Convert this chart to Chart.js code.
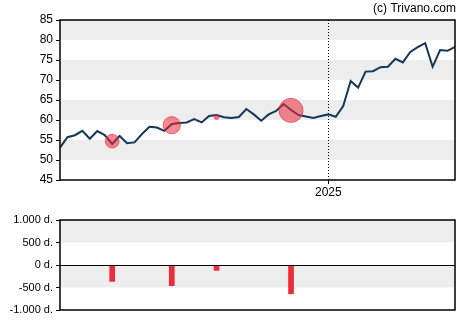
<!DOCTYPE html>
<html>
<head>
<meta charset="utf-8">
<script src="https://cdn.jsdelivr.net/npm/chart.js@4"></script>
<style>
  html, body { margin: 0; padding: 0; background: #fff; }
  #wrap { position: relative; width: 470px; height: 325px; }
  .box { position: absolute; left: 0; width: 470px; }
  #top { top: 0; height: 200px; }
  #bottom { top: 200px; height: 125px; }
</style>
</head>
<body>
<div id="wrap">
  <div class="box" id="top"><canvas id="priceChart"></canvas></div>
  <div class="box" id="bottom"><canvas id="tradeChart"></canvas></div>
</div>
<script>
// Weekly closing prices
const prices = [
  53.1, 55.7, 56.2, 57.3, 55.3, 57.25, 56.25, 54.0, 56.0, 54.2,
  54.4, 56.5, 58.3, 58.1, 57.3, 59.0, 59.25, 59.4, 60.2, 59.4,
  61.0, 61.25, 60.7, 60.5, 60.75, 62.75, 61.4, 59.8, 61.4, 62.25,
  64.0, 62.5, 61.25, 60.9, 60.5, 61.0, 61.4, 60.8, 63.5, 69.75,
  68.1, 72.1, 72.2, 73.2, 73.3, 75.3, 74.4, 77.0, 78.2, 79.2,
  73.3, 77.5, 77.3, 78.3
];
// Insider transactions: week index, price level, net value (thousands)
const tradeWeeks = [7, 15, 21, 31];
const tradePrices = [54.7, 58.7, 60.7, 62.4];
const tradeValues = [-365, -460, -120, -640];

// Year marker
const yearWeek = 36;
const yearLabel = '2025';

// Axis ticks
const priceTicks = [45, 50, 55, 60, 65, 70, 75, 80, 85];
const tradeTicks = [-1000, -500, 0, 500, 1000];
const tradeTickLabels = ['-1.000 d.', '-500 d.', '0 d.', '500 d.', '1.000 d.'];

const FONT = 'Liberation Sans, Arial, sans-serif';
const PLOT_LEFT = 60, PLOT_RIGHT = 455;

// Alternating grey bands and the border box
function bandsPlugin(bands) {
  return {
    id: 'bands',
    beforeDatasetsDraw(chart) {
      const { ctx, chartArea: a, scales: { y } } = chart;
      ctx.save();
      ctx.fillStyle = '#ededed';
      bands.forEach(([lo, hi]) => {
        const y1 = y.getPixelForValue(hi), y2 = y.getPixelForValue(lo);
        ctx.fillRect(a.left, y1, a.right - a.left, y2 - y1);
      });
      ctx.restore();
    },
    afterDraw(chart) {
      const { ctx, chartArea: a } = chart;
      ctx.save();
      ctx.strokeStyle = '#000';
      ctx.lineWidth = 1.5;
      ctx.strokeRect(a.left, a.top, a.right - a.left, a.bottom - a.top);
      ctx.restore();
    }
  };
}

const topExtras = {
  id: 'topExtras',
  beforeDatasetsDraw(chart) {
    const { ctx, chartArea: a, scales: { x } } = chart;
    const px = Math.round(x.getPixelForValue(yearWeek)) + 0.5;
    ctx.save();
    ctx.strokeStyle = '#000';
    ctx.lineWidth = 1;
    ctx.setLineDash([1, 2]);
    ctx.beginPath();
    ctx.moveTo(px, a.top);
    ctx.lineTo(px, a.bottom);
    ctx.stroke();
    ctx.restore();
  },
  afterDraw(chart) {
    const { ctx } = chart;
    ctx.save();
    ctx.fillStyle = '#000';
    ctx.font = '12px ' + FONT;
    ctx.textAlign = 'right';
    ctx.textBaseline = 'middle';
    ctx.fillText('(c) Trivano.com', 456, 8.5);
    ctx.restore();
  }
};

const linePoints = prices.map((v, i) => ({ x: i, y: v }));
const bubblePoints = tradeWeeks.map((w, i) => ({
  x: w, y: tradePrices[i], r: Math.abs(tradeValues[i]) * 0.0188
}));

new Chart(document.getElementById('priceChart'), {
  data: {
    datasets: [
      {
        type: 'line',
        data: linePoints,
        borderColor: '#15375a',
        borderWidth: 2,
        pointRadius: 0,
        tension: 0,
        order: 2
      },
      {
        type: 'bubble',
        data: bubblePoints,
        backgroundColor: 'rgba(235, 40, 60, 0.55)',
        borderColor: 'rgba(235, 40, 60, 0.6)',
        borderWidth: 1,
        order: 1
      }
    ]
  },
  options: {
    responsive: true,
    maintainAspectRatio: false,
    animation: false,
    events: [],
    layout: { padding: { top: 20, right: 470 - PLOT_RIGHT, left: 0, bottom: 0 } },
    plugins: { legend: { display: false }, tooltip: { enabled: false } },
    scales: {
      x: {
        type: 'linear',
        min: 0,
        max: prices.length - 1,
        offset: false,
        afterBuildTicks(s) { s.ticks = [{ value: yearWeek }]; },
        afterFit(s) { s.height = 20; },
        ticks: {
          callback: () => yearLabel,
          color: '#000',
          font: { family: FONT, size: 12 },
          padding: 1,
          maxRotation: 0
        },
        grid: { drawOnChartArea: false, tickLength: 4, color: '#000' },
        border: { display: false }
      },
      y: {
        min: 45,
        max: 85,
        afterBuildTicks(s) { s.ticks = priceTicks.map(v => ({ value: v })); },
        afterFit(s) { s.width = PLOT_LEFT; },
        ticks: {
          color: '#000',
          font: { family: FONT, size: 12 },
          padding: 3
        },
        grid: { drawOnChartArea: false, tickLength: 4, color: '#000' },
        border: { display: false }
      }
    }
  },
  plugins: [bandsPlugin([[50, 55], [60, 65], [70, 75], [80, 85]]), topExtras]
});

const zeroLine = {
  id: 'zeroLine',
  afterDatasetsDraw(chart) {
    const { ctx, chartArea: a, scales: { y } } = chart;
    const py = Math.round(y.getPixelForValue(0)) + 0.5;
    ctx.save();
    ctx.strokeStyle = '#000';
    ctx.lineWidth = 1.2;
    ctx.beginPath();
    ctx.moveTo(a.left, py);
    ctx.lineTo(a.right, py);
    ctx.stroke();
    ctx.restore();
  }
};

new Chart(document.getElementById('tradeChart'), {
  type: 'bar',
  data: {
    datasets: [{
      data: tradeWeeks.map((w, i) => ({ x: w, y: tradeValues[i] })),
      backgroundColor: '#ee2a3d',
      barThickness: 5
    }]
  },
  options: {
    responsive: true,
    maintainAspectRatio: false,
    animation: false,
    events: [],
    layout: { padding: { top: 20, right: 470 - PLOT_RIGHT, left: 0, bottom: 15 } },
    plugins: { legend: { display: false }, tooltip: { enabled: false } },
    scales: {
      x: {
        type: 'linear',
        min: 0,
        max: prices.length - 1,
        offset: false,
        display: false
      },
      y: {
        min: -1000,
        max: 1000,
        afterBuildTicks(s) { s.ticks = tradeTicks.map(v => ({ value: v })); },
        afterFit(s) { s.width = PLOT_LEFT; },
        ticks: {
          color: '#000',
          font: { family: FONT, size: 11 },
          padding: 3,
          callback: (v) => tradeTickLabels[tradeTicks.indexOf(v)]
        },
        grid: { drawOnChartArea: false, tickLength: 4, color: '#000' },
        border: { display: false }
      }
    }
  },
  plugins: [bandsPlugin([[-500, 0], [500, 1000]]), zeroLine]
});
</script>
</body>
</html>
